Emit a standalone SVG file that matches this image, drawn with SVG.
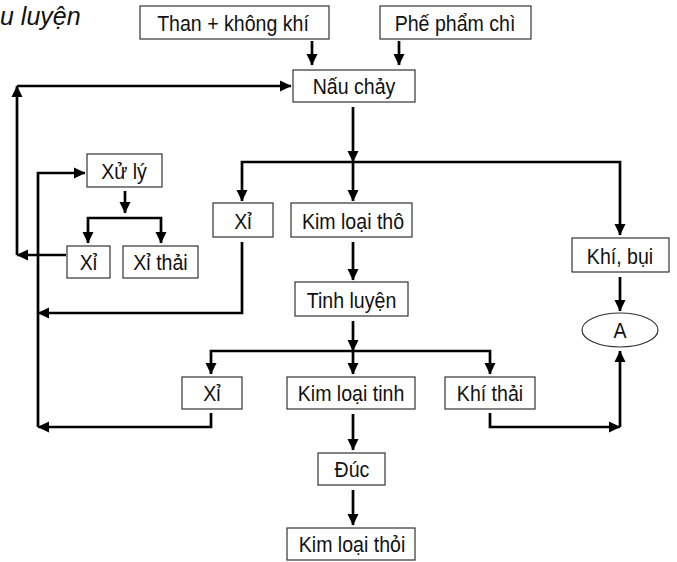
<svg xmlns="http://www.w3.org/2000/svg" width="677" height="562" viewBox="0 0 677 562">
  <style>
    .box { fill: #ffffff; stroke: #333333; stroke-width: 1.2; }
    .lbl { font-family: "Liberation Sans", Arial, sans-serif; font-size: 21.5px; fill: #111111; text-anchor: middle; }
    .title { font-family: "Liberation Sans", Arial, sans-serif; font-size: 25px; font-style: italic; fill: #111111; }
    .wire { fill: none; stroke: #000000; stroke-width: 2.7; stroke-linejoin: miter; }
    .arr { marker-end: url(#head); }
    .arr2 { marker-start: url(#head); marker-end: url(#head); }
  </style>
  <defs>
    <marker id="head" markerUnits="userSpaceOnUse" markerWidth="12" markerHeight="12" viewBox="0 0 12 12" refX="11" refY="6" orient="auto-start-reverse">
      <path d="M0,0.5 L11.5,6 L0,11.5 Z" fill="#000000"/>
    </marker>
  </defs>

  <rect width="677" height="562" fill="#ffffff"/>

  <text class="title" x="0" y="25">u luyện</text>

  <!-- connectors -->
  <g id="connectors">
    <path class="wire arr" d="M312,41 V65"/>
    <path class="wire arr" d="M399,41 V65"/>
    <path class="wire arr" d="M353,107 V162"/>
    <path class="wire arr" d="M353,162 V201"/>
    <path class="wire arr2" d="M242,201 V162 H620 V235"/>
    <path class="wire arr" d="M620,277 V311"/>
    <path class="wire arr" d="M353,242 V280"/>
    <path class="wire arr" d="M353,321 V351"/>
    <path class="wire arr" d="M353,351 V374"/>
    <path class="wire arr2" d="M211,374 V351 H490 V374"/>
    <path class="wire arr" d="M353,414 V450"/>
    <path class="wire arr" d="M353,490 V525"/>
    <!-- slag returns -->
    <path class="wire arr" d="M125,191 V213"/>
    <path class="wire arr2" d="M88,243 V218 H161 V243"/>
    <path class="wire arr" d="M66,255 H17"/>
    <path class="wire arr" d="M17,255 V86"/>
    <path class="wire arr" d="M17,86 H291"/>
    <path class="wire arr" d="M38,427 V173 H85"/>
    <path class="wire arr" d="M242,242 V313 H38"/>
    <path class="wire arr" d="M211,413 V427 H38"/>
    <!-- off-gas to A -->
    <path class="wire arr" d="M490,413 V427 H620"/>
    <path class="wire arr" d="M620,427 V351"/>
  </g>

  <!-- nodes: labels are narrowed horizontally to a condensed face -->
  <g id="than-khong-khi"><rect class="box" x="140" y="6" width="189" height="33"/><text class="lbl" transform="translate(233,30.5) scale(0.91,1)">Than + không khí</text></g>
  <g id="phe-pham-chi"><rect class="box" x="380" y="6" width="151" height="33"/><text class="lbl" transform="translate(455,30.5) scale(0.91,1)">Phế phẩm chì</text></g>
  <g id="nau-chay"><rect class="box" x="293" y="70" width="122" height="32"/><text class="lbl" transform="translate(354,94) scale(0.91,1)">Nấu chảy</text></g>
  <g id="xu-ly"><rect class="box" x="87" y="154" width="75" height="33"/><text class="lbl" transform="translate(124,178.5) scale(0.91,1)">Xử lý</text></g>
  <g id="xi-1"><rect class="box" x="213" y="203" width="60" height="34"/><text class="lbl" transform="translate(243,228.5) scale(0.91,1)">Xỉ</text></g>
  <g id="kim-loai-tho"><rect class="box" x="291" y="203" width="121" height="34"/><text class="lbl" transform="translate(353,228.5) scale(0.91,1)">Kim loại thô</text></g>
  <g id="khi-bui"><rect class="box" x="572" y="238" width="97" height="34"/><text class="lbl" transform="translate(620,263.5) scale(0.91,1)">Khí, bụi</text></g>
  <g id="xi-tai-che"><rect class="box" x="67" y="246" width="43" height="32"/><text class="lbl" transform="translate(88.5,270) scale(0.91,1)">Xỉ</text></g>
  <g id="xi-thai"><rect class="box" x="123" y="246" width="75" height="32"/><text class="lbl" transform="translate(160.5,270) scale(0.91,1)">Xỉ thải</text></g>
  <g id="tinh-luyen"><rect class="box" x="295" y="282" width="113" height="34"/><text class="lbl" transform="translate(351.5,307.5) scale(0.91,1)">Tinh luyện</text></g>
  <g id="a"><ellipse class="box" cx="620" cy="330" rx="38" ry="17"/><text class="lbl" transform="translate(620,338) scale(0.91,1)">A</text></g>
  <g id="xi-2"><rect class="box" x="182" y="377" width="60" height="32"/><text class="lbl" transform="translate(212,401) scale(0.91,1)">Xỉ</text></g>
  <g id="kim-loai-tinh"><rect class="box" x="287" y="377" width="128" height="32"/><text class="lbl" transform="translate(351,401) scale(0.91,1)">Kim loại tinh</text></g>
  <g id="khi-thai"><rect class="box" x="445" y="377" width="90" height="32"/><text class="lbl" transform="translate(490,401) scale(0.91,1)">Khí thải</text></g>
  <g id="duc"><rect class="box" x="318" y="453" width="67" height="32"/><text class="lbl" transform="translate(352,477) scale(0.91,1)">Đúc</text></g>
  <g id="kim-loai-thoi"><rect class="box" x="287" y="528" width="128" height="32"/><text class="lbl" transform="translate(352,552) scale(0.91,1)">Kim loại thỏi</text></g>
</svg>
